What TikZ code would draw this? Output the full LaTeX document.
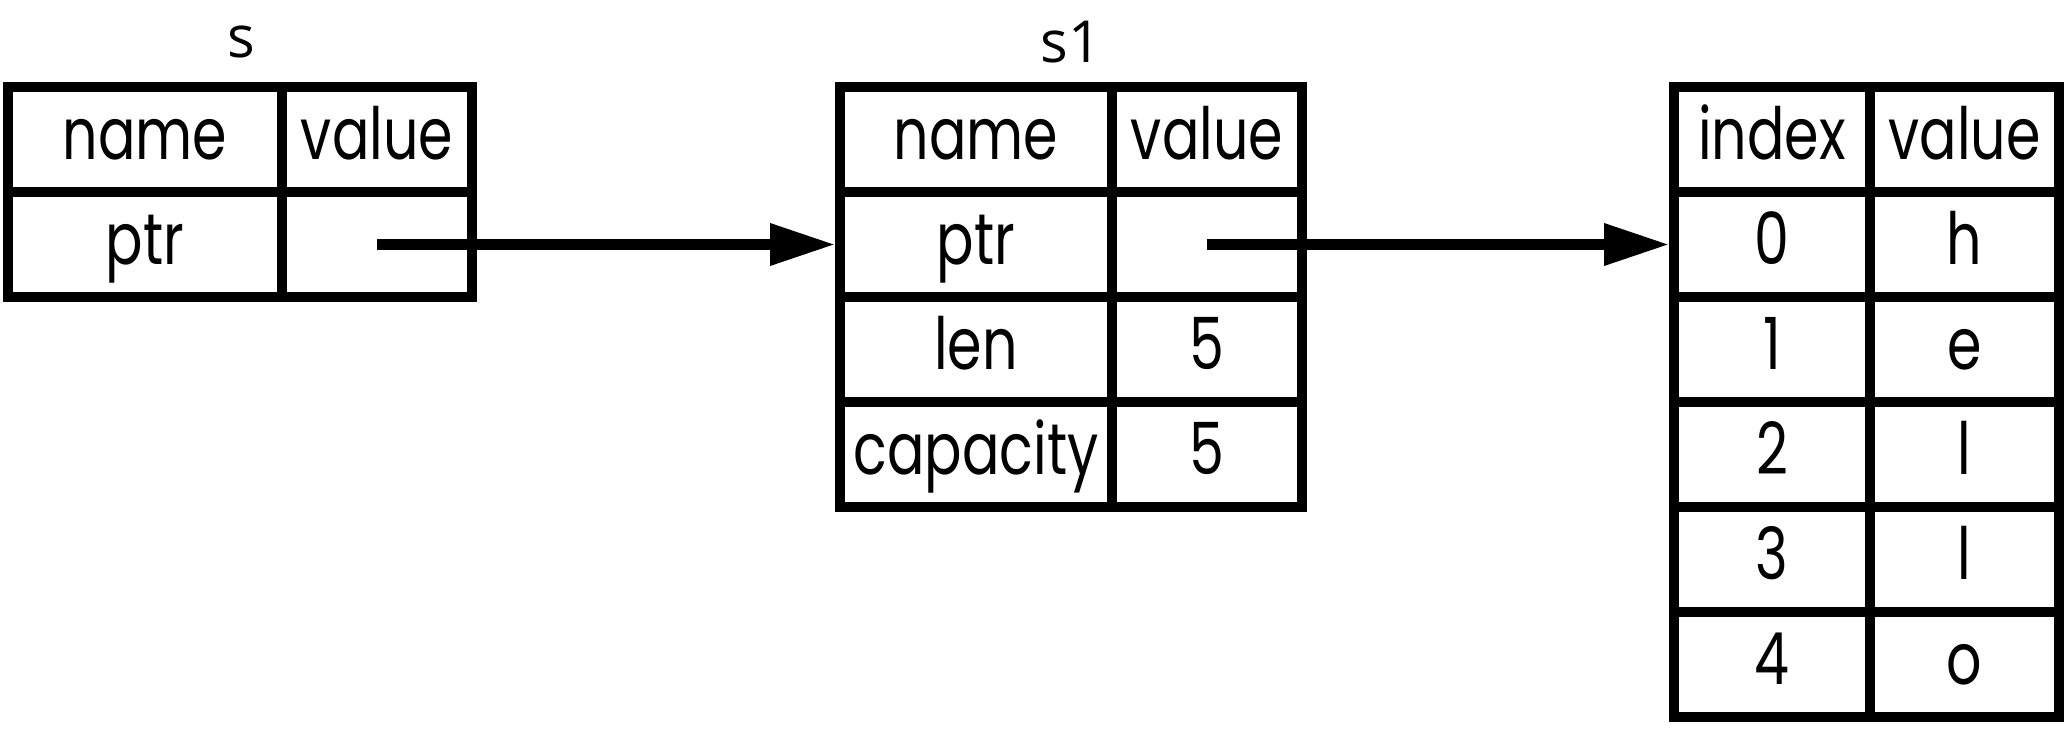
\documentclass[tikz,border=0pt]{standalone}
\usepackage{fontspec}
\setmainfont[FakeStretch=0.77]{Poppins}
\newfontfamily\labelfont{Open Sans}
\usetikzlibrary{arrows.meta}

\begin{document}
\begin{tikzpicture}[x=1pt, y=-1pt,
  cell/.style={draw, line width=10pt, inner sep=0pt, minimum height=105pt,
    text height=40pt, text depth=0pt, font=\fontsize{72}{80}\selectfont},
  title/.style={inner sep=0pt, font=\labelfont\fontsize{58}{64}\selectfont},
  ptr/.style={line width=10pt, -{Triangle[length=65pt, width=40pt]}}]
\useasboundingbox (0,0) rectangle (2072,730);

\node[title] (s) at (241,42) {s};
\node[cell, minimum width=274pt] (sname) at (145,139.5) {name};
\node[cell, minimum width=190pt] (svalue) at (377,139.5) {value};
\node[cell, minimum width=274pt] (sptrname) at (145,244.5) {ptr};
\node[cell, minimum width=190pt] (sptr) at (377,244.5) {};

\node[title] (s1) at (1071,42) {s1};
\node[cell, minimum width=272pt] (s1name) at (976,139.5) {name};
\node[cell, minimum width=190pt] (s1value) at (1207,139.5) {value};
\node[cell, minimum width=272pt] (s1ptrname) at (976,244.5) {ptr};
\node[cell, minimum width=190pt] (s1ptr) at (1207,244.5) {};
\node[cell, minimum width=272pt] (s1lenname) at (976,349.5) {len};
\node[cell, minimum width=190pt] (s1len) at (1207,349.5) {5};
\node[cell, minimum width=272pt] (s1capname) at (976,454.5) {capacity};
\node[cell, minimum width=190pt] (s1cap) at (1207,454.5) {5};

\node[cell, minimum width=196pt] (arrindex) at (1772,139.5) {index};
\node[cell, minimum width=189pt] (arrvalue) at (1964.5,139.5) {value};
\foreach \i/\ch in {0/h,1/e,2/l,3/l,4/o} {
  \node[cell, minimum width=196pt] (idx\i) at (1772,{244.5+105*\i}) {\i};
  \node[cell, minimum width=189pt] (val\i) at (1964.5,{244.5+105*\i}) {\ch};
}

\draw[ptr] (sptr.center) -- (s1ptrname.west);
\draw[ptr] (s1ptr.center) -- (idx0.west);
\end{tikzpicture}
\end{document}
